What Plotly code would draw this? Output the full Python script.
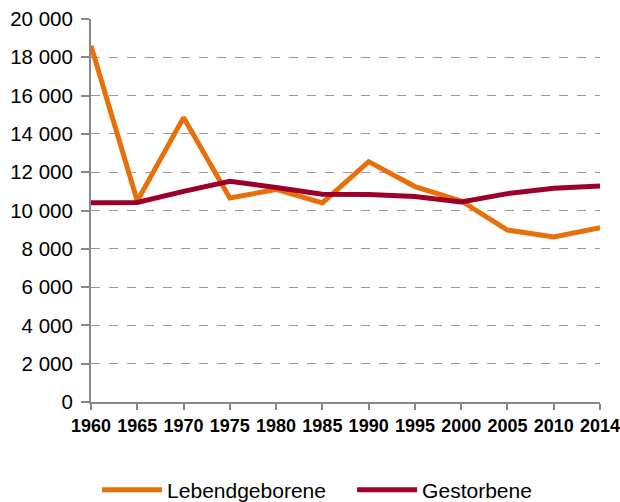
import plotly.graph_objects as go

years = ["1960", "1965", "1970", "1975", "1980", "1985", "1990", "1995", "2000", "2005", "2010", "2014"]
lebendgeborene = [18600, 10500, 14850, 10650, 11100, 10400, 12550, 11250, 10500, 8980, 8620, 9100]
gestorbene = [10400, 10420, 11000, 11530, 11200, 10850, 10830, 10730, 10440, 10880, 11160, 11280]
y_ticks = list(range(0, 20001, 2000))

xs = list(range(len(years)))

fig = go.Figure()
fig.add_trace(go.Scatter(x=xs, y=lebendgeborene, mode="lines", name="Lebendgeborene",
                         line=dict(color="#E8700A", width=5), legend="legend"))
fig.add_trace(go.Scatter(x=xs, y=gestorbene, mode="lines", name="Gestorbene",
                         line=dict(color="#9C0028", width=5), legend="legend2"))

legend_font = dict(family="Liberation Sans, Arial", size=21, color="#000")
fig.update_layout(
    width=620, height=502,
    margin=dict(l=91, r=20, t=19, b=100, autoexpand=False),
    plot_bgcolor="white", paper_bgcolor="white",
    separators=", ",
    showlegend=True,
    legend=dict(orientation="h", x=0.012, xanchor="left", y=-0.23, yanchor="middle",
                font=legend_font, itemwidth=60),
    legend2=dict(orientation="h", x=0.513, xanchor="left", y=-0.23, yanchor="middle",
                 font=legend_font, itemwidth=60),
    font=dict(family="Liberation Sans, Arial", size=20, color="#000"),
)
fig.update_xaxes(
    range=[0, len(years) - 1], tickvals=xs, ticktext=["<b>%s</b>" % y for y in years],
    showgrid=False, showline=True, linecolor="#878787", linewidth=2,
    ticks="outside", ticklen=6, tickcolor="#878787", tickwidth=1.5,
    tickfont=dict(family="Liberation Sans, Arial", size=18, color="#000"),
    ticklabeloverflow="allow",
    zeroline=False, automargin=False,
)
fig.update_yaxes(
    range=[0, 20000], tickvals=y_ticks, tickformat=",d",
    showgrid=True, gridcolor="#9a9a9a", griddash="dash", gridwidth=1.3,
    showline=True, linecolor="#878787", linewidth=2,
    ticks="outside", ticklen=8, tickcolor="#878787", tickwidth=1.5,
    tickfont=dict(family="Liberation Sans, Arial", size=20.5, color="#000"),
    ticklabelstandoff=4,
    zeroline=False, automargin=False,
)

fig.write_html("out.html", config={"displayModeBar": False},
               post_script="document.body.style.margin='0px';document.body.style.overflow='hidden';")
